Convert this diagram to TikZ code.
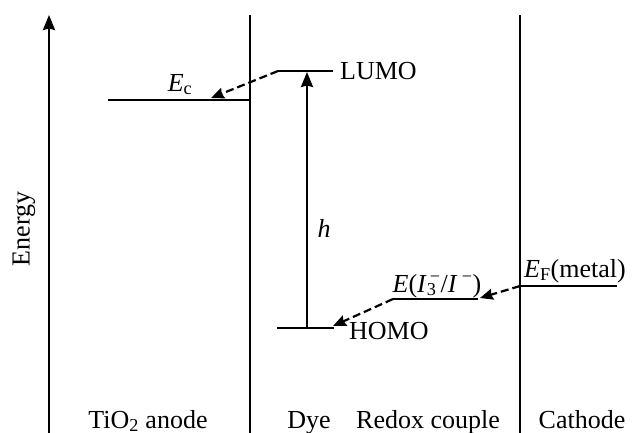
\documentclass[tikz,border=0pt]{standalone}
\usepackage{fontspec}
\setmainfont{Liberation Serif}
\usetikzlibrary{arrows.meta}
\begin{document}
\begin{tikzpicture}[x=1pt,y=-1pt,
  lvl/.style={line width=2.2pt},
  arr/.style={line width=2.2pt,-{Stealth[length=15pt,width=12pt,inset=1.5pt]}},
  darr/.style={line width=2.2pt,dash pattern=on 8pt off 4pt,-{Stealth[length=13pt,width=11pt,inset=1.5pt]}},
  lbl/.style={font=\fontsize{26}{30}\selectfont, inner sep=0pt}]
\useasboundingbox (0,0) rectangle (634,432);
% coordinates
\coordinate (axB) at (49,440);
\coordinate (axT) at (49,15);
\coordinate (b1T) at (250,15);
\coordinate (b1B) at (250,440);
\coordinate (b2T) at (520,15);
\coordinate (b2B) at (520,440);
\coordinate (EcL) at (108,100);
\coordinate (EcR) at (250,100);
\coordinate (EcTip) at (211,98);
\coordinate (LuL) at (278,71);
\coordinate (LuR) at (333,71);
\coordinate (LuM) at (307,72);
\coordinate (HoL) at (277,328);
\coordinate (HoR) at (334,328);
\coordinate (HoM) at (307,328);
\coordinate (RdL) at (393,299);
\coordinate (RdR) at (478,299);
\coordinate (RdTip) at (480,298);
\coordinate (EfL) at (520,286);
\coordinate (EfR) at (617,286);
\coordinate (HoTip) at (333,326);
% axis and boundaries
\draw[arr] (axB) -- (axT);
\draw[lvl] (b1B) -- (b1T);
\draw[lvl] (b2B) -- (b2T);
% levels
\draw[lvl] (EcL) -- (EcR);
\draw[lvl] (LuL) -- (LuR);
\draw[lvl] (HoL) -- (HoR);
\draw[lvl] (RdL) -- (RdR);
\draw[lvl] (EfL) -- (EfR);
% transitions
\draw[arr] (HoM) -- (LuM);
\draw[darr] (LuL) -- (EcTip);
\draw[darr] (EfL) -- (RdTip);
\draw[darr] (RdL) -- (HoTip);
% labels
\node[lbl, anchor=base] (lEc) at (180,91) {\textit{E}\textsubscript{c}};
\node[lbl, anchor=west] (lLu) at (340,71) {LUMO};
\node[lbl, anchor=west] (lHo) at (349,331) {HOMO};
\node[lbl] (lh) at (324,228) {\textit{h}};
\node[lbl, anchor=base] (lRd) at (437,292) {\textit{E}(\textit{I}\makebox[0pt][l]{\textsubscript{3}}\textsuperscript{\,−}/\textit{I}\,\textsuperscript{−})};
\node[lbl, anchor=base] (lEf) at (575,277) {\textit{E}\textsubscript{F}(metal)};
\node[lbl, rotate=90] (lEn) at (24,229) {Energy};
\node[lbl, anchor=base] (lTi) at (148,428) {TiO\textsubscript{2} anode};
\node[lbl, anchor=base] (lDy) at (309,428) {Dye};
\node[lbl, anchor=base] (lRc) at (428,428) {Redox couple};
\node[lbl, anchor=base] (lCa) at (582,428) {Cathode};
\end{tikzpicture}
\end{document}
